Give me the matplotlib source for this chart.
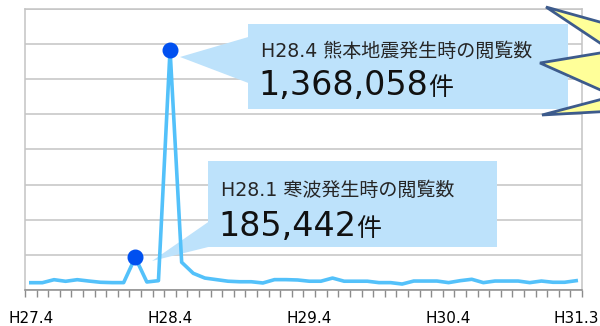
import numpy as np
import matplotlib
matplotlib.use("Agg")
import matplotlib.pyplot as plt
from matplotlib.patches import Polygon, Rectangle

plt.rcParams['font.family'] = ['DejaVu Sans', 'Noto Sans CJK JP']

# ==== データ (H27.4 〜 H31.3, 月別閲覧数) ====
months = list(range(48))
views = [
    41600, 41600, 58700, 49600, 58700, 51000, 44000, 42000, 42000, 185442,
    45600, 53000, 1368058, 158000, 95000, 68000, 59000, 50000, 47000, 47000,
    40000, 59000, 59000, 57000, 50000, 50000, 68000, 50000, 50000, 50000,
    42000, 42000, 34000, 51000, 51000, 51000, 42000, 53000, 61000, 42000,
    51000, 51000, 51000, 42000, 51000, 44000, 44000, 53000,
]
tick_pos = [0, 12, 24, 36, 47]
tick_labels = ["H27.4", "H28.4", "H29.4", "H30.4", "H31.3"]
highlight_idx = [9, 12]

title_big = "H28.4 熊本地震発生時の閲覧数"
num_big = "1,368,058"
title_small = "H28.1 寒波発生時の閲覧数"
num_small = "185,442"
unit = "件"

fig = plt.figure(figsize=(6, 3.26), dpi=100)
ax = fig.add_axes([25 / 600, 1 - 290 / 326, 557 / 600, 281 / 326])

box_color = "#BDE2FB"
line_color = "#53C1FA"

# ---- line ----
ax.plot(months, views, color=line_color, linewidth=2.6, zorder=5)
ax.plot([months[i] for i in highlight_idx], [views[i] for i in highlight_idx],
        "o", color="#0050F0", markersize=10.5, zorder=6)

ax.set_xlim(-0.5, 47.5)
ax.set_ylim(0, 1600000)
ax.set_yticks(np.arange(0, 1600001, 200000))
ax.tick_params(axis="y", length=0, labelleft=False)
ax.grid(axis="y", color="#C4C4C4", linewidth=1.1)
ax.set_axisbelow(True)

ax.set_xticks(tick_pos)
ax.set_xticklabels(tick_labels, fontsize=11)
ax.set_xticks(np.arange(-0.5, 48, 1), minor=True)
ax.tick_params(axis="x", which="major", length=0, pad=15)
ax.tick_params(axis="x", which="minor", length=5, width=1, color="#8C8C8C")

for s in ["top", "right", "left"]:
    ax.spines[s].set_color("#C4C4C4")
    ax.spines[s].set_linewidth(1.1)
ax.spines["bottom"].set_color("#8C8C8C")
ax.spines["bottom"].set_linewidth(1.1)

# ---- callout: H28.4 ----
tr = ax.transAxes
ax.add_patch(Rectangle((0.4004, 0.644), 0.5745, 0.3026, transform=tr,
                       facecolor=box_color, edgecolor="none", zorder=3, clip_on=False))
ax.add_patch(Polygon([(0.2783, 0.8292), (0.4010, 0.9004), (0.4010, 0.7367)],
                     transform=tr, facecolor=box_color, edgecolor="none", zorder=3, clip_on=False))
ax.text(0.4237, 0.8292, title_big, transform=tr, fontsize=13.7, color="#262626",
        va="baseline", ha="left", zorder=7)
t1 = ax.text(0.4183, 0.6940, num_big, transform=tr, fontsize=24, color="#111111",
             va="baseline", ha="left", zorder=7)
ax.annotate(unit, xy=(1, 0.6940), xycoords=(t1, tr), fontsize=18, color="#111111",
            va="baseline", ha="left", zorder=7)

# ---- callout: H28.1 ----
ax.add_patch(Rectangle((0.3285, 0.1530), 0.5189, 0.3061, transform=tr,
                       facecolor=box_color, edgecolor="none", zorder=3, clip_on=False))
ax.add_patch(Polygon([(0.2280, 0.1032), (0.3290, 0.2420), (0.3290, 0.1530)],
                     transform=tr, facecolor=box_color, edgecolor="none", zorder=3, clip_on=False))
ax.text(0.3519, 0.3345, title_small, transform=tr, fontsize=13.7, color="#262626",
        va="baseline", ha="left", zorder=7)
t2 = ax.text(0.3465, 0.1922, num_small, transform=tr, fontsize=24, color="#111111",
             va="baseline", ha="left", zorder=7)
ax.annotate(unit, xy=(1, 0.1922), xycoords=(t2, tr), fontsize=18, color="#111111",
            va="baseline", ha="left", zorder=7)

# ---- starburst (右上) ----
star = [(650, 36), (546, 7), (612, 51), (540, 63), (614, 96), (542, 115), (650, 109)]
star = [(x / 600, 1 - y / 326) for x, y in star]
fig.add_artist(Polygon(star, closed=True, transform=fig.transFigure,
                       facecolor="#FFFF99", edgecolor="#3D5B8C", linewidth=2, zorder=10))

fig.savefig("out.png", dpi=100)
